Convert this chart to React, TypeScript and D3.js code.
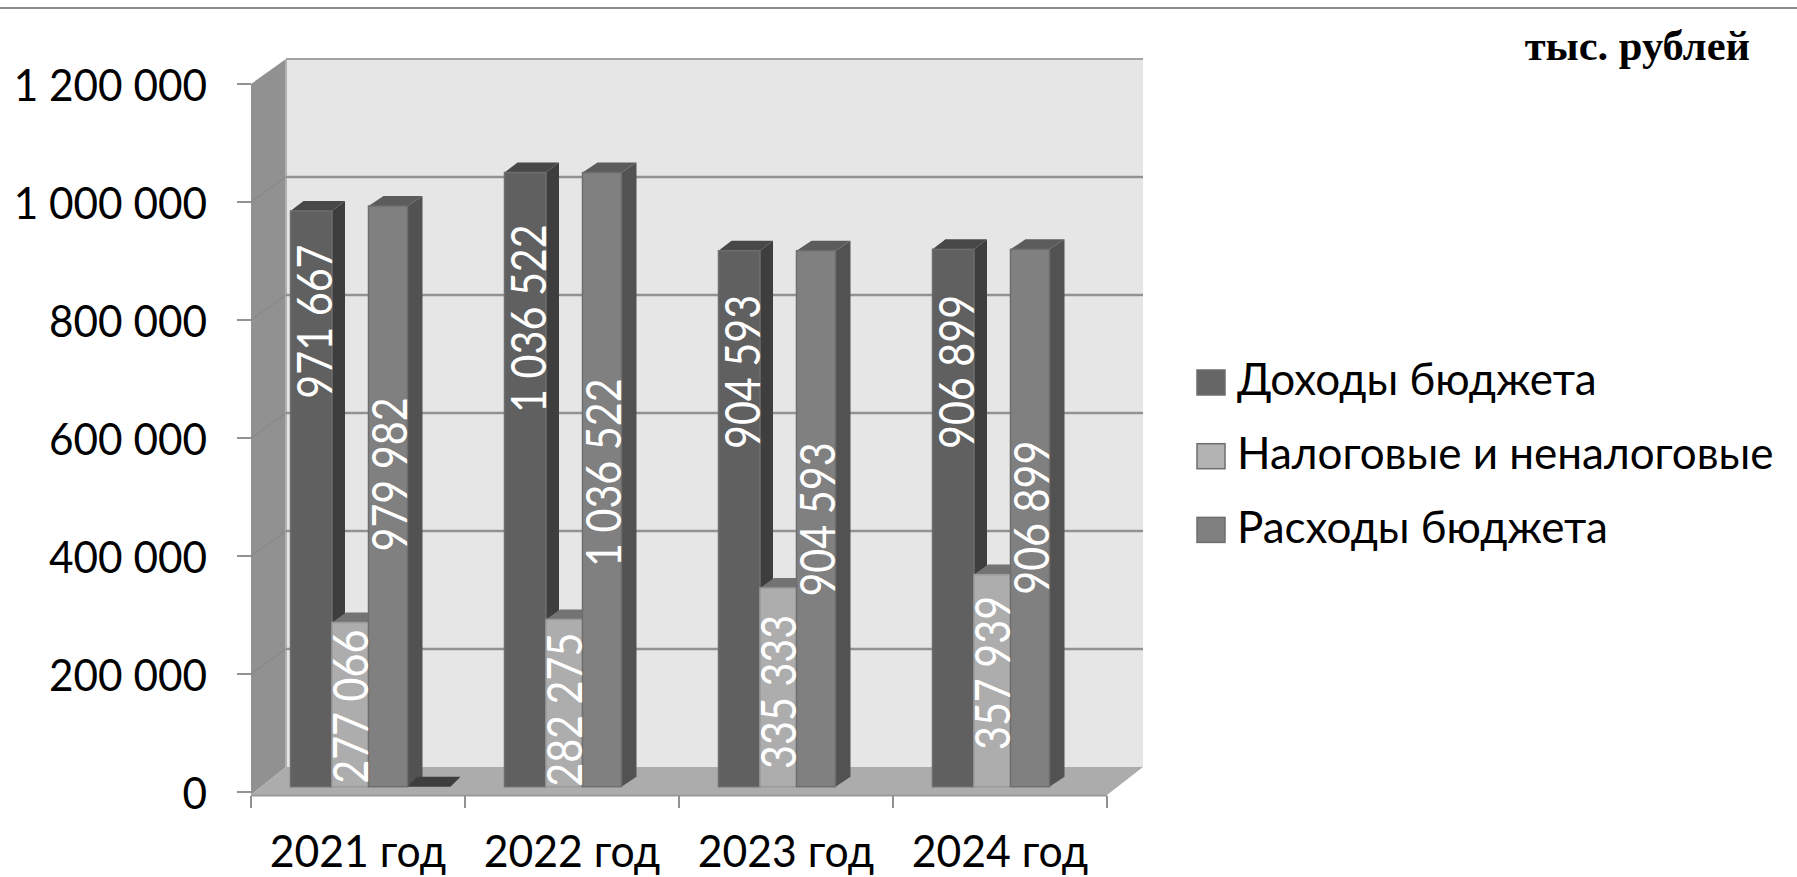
import React from "react";
import * as d3 from "d3";

const categories = ["2021 год", "2022 год", "2023 год", "2024 год"];
const seriesNames = ["Доходы бюджета", "Налоговые и неналоговые", "Расходы бюджета"];
const revenue = [971667, 1036522, 904593, 906899];
const taxAndNonTax = [277066, 282275, 335333, 357939];
const expenses = [979982, 1036522, 904593, 906899];
const emptySeries = [0, null, null, null];
const revenueLabelAt = [785000, 790000, 700000, 700000];
const taxLabelAt = [135000, 130000, 160000, 192000];
const expensesLabelAt = [527000, 530000, 451000, 454000];
const yTicks = [0, 200000, 400000, 600000, 800000, 1000000, 1200000];
const unitLabel = "тыс. рублей";

const W = 1797, H = 877;
const FONT = "Lato, Carlito, 'Open Sans', sans-serif";
const frontL = 251, frontR = 1107, depthX = 35, depthY = 25;
const y0Front = 792, yTopFront = 84;

const fmt = (v: number) => d3.format(",")(v).replace(/,/g, " ");

const series = [
  { values: revenue, labelAt: revenueLabelAt, offset: 0, width: 41.5, dx: 13, front: "#606060", side: "#3e3e3e", top: "#484848", stroke: "#6e6e6e" },
  { values: taxAndNonTax, labelAt: taxLabelAt, offset: 41.5, width: 36.5, dx: 14, front: "#adadad", side: "#707070", top: "#737373", stroke: "#9a9a9a" },
  { values: expenses, labelAt: expensesLabelAt, offset: 78, width: 39, dx: 15, front: "#808080", side: "#525252", top: "#5c5c5c", stroke: "#6e6e6e" },
  { values: emptySeries, labelAt: [], offset: 117, width: 43, dx: 10, front: "#3e3e3e", side: "#3e3e3e", top: "#3e3e3e", stroke: "#3e3e3e" },
];
const legendFills = ["#666666", "#b3b3b3", "#808080"];

const pts = (a: number[][]) => a.map((p) => p.join(",")).join(" ");

export default function App() {
  const yFront = d3.scaleLinear().domain([0, 1200000]).range([y0Front, yTopFront]);
  const yBar = d3.scaleLinear().domain([0, 1200000]).range([786.7, 75.7]);
  const xTick = d3.scaleBand().domain(categories).range([frontL, frontR]);
  const xGroup = d3.scaleBand().domain(categories).range([290.5, 290.5 + 214 * 4]);
  const grid = "#929292";

  return (
    <svg width={W} height={H} viewBox={`0 0 ${W} ${H}`} style={{ position: "absolute", left: 0, top: 0, background: "#fff" }}>
      <line x1={0} x2={W} y1={8} y2={8} stroke="#8a8a8a" strokeWidth={2} />

      {/* walls */}
      <polygon points={pts([[frontL + depthX, yTopFront - depthY], [frontR + depthX + 1, yTopFront - depthY], [frontR + depthX + 1, y0Front - depthY], [frontL + depthX, y0Front - depthY]])} fill="#e6e6e6" />
      <polygon points={pts([[frontL, yTopFront], [frontL + depthX, yTopFront - depthY], [frontL + depthX, y0Front - depthY], [frontL, y0Front + 3]])} fill="#919191" />
      <polygon points={pts([[frontL, y0Front + 3], [frontL + depthX, y0Front - depthY], [frontR + depthX + 1, y0Front - depthY], [frontR, y0Front + 3]])} fill="#acacac" />
      <line x1={frontL} x2={frontR} y1={y0Front + 3.5} y2={y0Front + 3.5} stroke="#9a9a9a" strokeWidth={2} />
      <line x1={frontL + depthX} x2={frontR + depthX + 1} y1={yTopFront - depthY} y2={yTopFront - depthY} stroke="#a3a3a3" strokeWidth={2} />
      <line x1={frontL + depthX} x2={frontL + depthX} y1={yTopFront - depthY} y2={y0Front - depthY} stroke="#b0b0b0" strokeWidth={2} />

      {/* grid */}
      {yTicks.filter((t) => t > 0 && t < 1200000).map((t) => (
        <g key={t}>
          <line x1={frontL + depthX} x2={frontR + depthX + 1} y1={yFront(t) - depthY} y2={yFront(t) - depthY} stroke={grid} strokeWidth={2.5} />
          <line x1={frontL} x2={frontL + depthX} y1={yFront(t)} y2={yFront(t) - depthY} stroke="#848484" strokeWidth={1} />
        </g>
      ))}

      {/* axes */}
      {yTicks.map((t) => (
        <g key={t}>
          <line x1={237} x2={frontL} y1={yFront(t)} y2={yFront(t)} stroke={grid} strokeWidth={2} />
          <text transform={`translate(207,${yFront(t) + 16.5}) scale(0.94,1)`} textAnchor="end" fontFamily={FONT} fontSize={45} fill="#000">{fmt(t)}</text>
        </g>
      ))}
      {[...categories, ""].map((c, i) => {
        const x = i < categories.length ? xTick(c)! : frontR;
        return <line key={i} x1={x} x2={x} y1={y0Front + 4} y2={808} stroke={grid} strokeWidth={2} />;
      })}
      {categories.map((c) => (
        <text key={c} transform={`translate(${xTick(c)! + xTick.bandwidth() / 2},867) scale(0.95,1)`} textAnchor="middle" fontFamily={FONT} fontSize={45} fill="#000">{c}</text>
      ))}

      {/* bars */}
      {categories.map((c, ci) => (
        <g key={c}>
          {series.map((s, si) => {
            const v = s.values[ci];
            if (v === null || v === undefined) return null;
            const x = xGroup(c)! + s.offset;
            const r = x + s.width;
            const t = yBar(v);
            const b = yBar(0);
            const d = 10;
            return (
              <g key={si}>
                <polygon points={pts([[r, t], [r + s.dx, t - d], [r + s.dx, b - d], [r, b]])} fill={s.side} />
                <polygon points={pts([[x, t], [x + s.dx, t - d], [r + s.dx, t - d], [r, t]])} fill={s.top} />
                <rect x={x} y={t} width={s.width} height={b - t} fill={s.front} stroke={s.stroke} strokeWidth={1.5} />
              </g>
            );
          })}
          {series.map((s, si) => {
            const at = s.labelAt[ci];
            if (at === undefined) return null;
            const x = xGroup(c)! + s.offset + s.width - 0.5;
            return (
              <text key={si} transform={`translate(${x},${yBar(at)}) rotate(-90) scale(0.86,1)`} textAnchor="middle" fontFamily={FONT} fontSize={48} fill="#fff">{fmt(s.values[ci] as number)}</text>
            );
          })}
        </g>
      ))}

      {/* legend */}
      {seriesNames.map((n, i) => (
        <g key={n}>
          <rect x={1197} y={370 + i * 73.7} width={28} height={25} fill={legendFills[i]} stroke="#6e6e6e" strokeWidth={1.5} />
          <text x={1237} y={395 + i * 74} fontFamily={FONT} fontSize={44} fill="#000">{n}</text>
        </g>
      ))}

      <text x={1750} y={60} textAnchor="end" fontFamily="'Liberation Serif', serif" fontWeight="bold" fontSize={42.5} fill="#000">{unitLabel}</text>
    </svg>
  );
}
